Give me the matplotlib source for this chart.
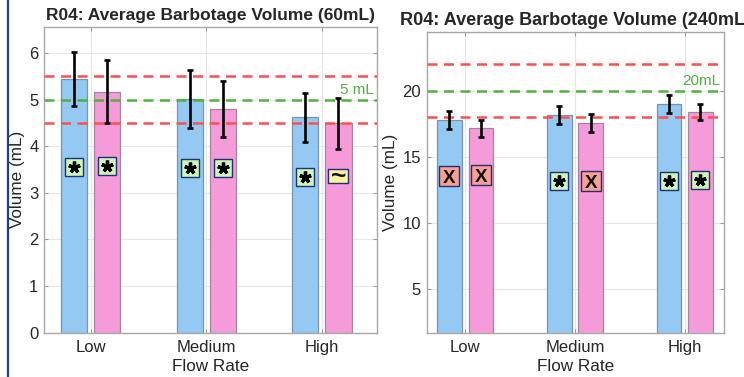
import matplotlib
matplotlib.use("Agg")
import matplotlib.pyplot as plt
import numpy as np

plt.rcParams['font.family'] = ['Liberation Sans', 'DejaVu Sans']

categories = ["Low", "Medium", "High"]

# 60 mL panel
mean60_a = [5.45, 5.02, 4.62]
err60_a = [0.58, 0.62, 0.53]
mean60_b = [5.17, 4.81, 4.49]
err60_b = [0.68, 0.60, 0.545]
sym60_a = ["*", "*", "*"]
sym60_b = ["*", "*", "~"]
symy60_a = [3.55, 3.53, 3.35]
symy60_b = [3.57, 3.53, 3.36]
ref60 = [4.5, 5.5]
target60 = 5.0
label60 = "5 mL"

# 240 mL panel
mean240_a = [17.79, 18.14, 18.97]
err240_a = [0.65, 0.69, 0.68]
mean240_b = [17.17, 17.59, 18.37]
err240_b = [0.65, 0.68, 0.59]
sym240_a = ["X", "*", "*"]
sym240_b = ["X", "X", "*"]
symy240_a = [13.52, 13.14, 13.2]
symy240_b = [13.6, 13.2, 13.27]
ref240 = [18.0, 22.0]
target240 = 20.0
label240 = "20mL"

BLUE = "#93C9F2"
PINK = "#F69BD9"
RED = "#FF4F4F"
GREEN = "#4DB33D"
SYM_COLORS = {"*": "#CFF7B4", "~": "#FFF3A0", "X": "#F5A093"}
BOX_EDGE = "#1F2F7A"
RECT_MARKER = [(-1.6, -1), (1.6, -1), (1.6, 1), (-1.6, 1), (-1.6, -1)]

fig = plt.figure(figsize=(7.44, 3.77), dpi=100)
fig.add_artist(plt.Line2D([7.5 / 744, 7.5 / 744], [0, 1], color="#1F3C8C", lw=1.6,
                          transform=fig.transFigure))


def draw_symbol(ax, xi, yy, s):
    if s == "*":
        ax.plot([xi], [yy], marker="s", ms=13, mfc=SYM_COLORS[s], mec=BOX_EDGE,
                mew=1, ls="none", zorder=5)
        ax.plot([xi], [yy], marker=(5, 2, 0), ms=8.5, mec="black", mew=2.4,
                ls="none", zorder=6)
    elif s == "X":
        ax.plot([xi], [yy], marker="s", ms=13.7, mfc=SYM_COLORS[s], mec=BOX_EDGE,
                mew=1, ls="none", zorder=5)
        ax.annotate("X", (xi, yy), xytext=(0, -4.9), textcoords="offset points",
                    ha="center", va="baseline", fontsize=13.5, fontweight="bold",
                    color="#111111", zorder=6)
    else:
        ax.plot([xi], [yy], marker=RECT_MARKER, ms=15, mfc=SYM_COLORS[s],
                mec=BOX_EDGE, mew=1, ls="none", zorder=5)
        ax.annotate(s, (xi, yy), xytext=(0, -5.6), textcoords="offset points",
                    ha="center", va="baseline", fontsize=19, fontweight="bold",
                    color="#111111", zorder=6)


def panel(rect, title, tsize, ma, ea, mb, eb, sa, sb, ya, yb, refs, target, tlabel,
          ylim, xlim, yticks):
    ax = fig.add_axes(rect)
    x = np.arange(1, len(categories) + 1)
    w = 0.225
    off = 0.143
    ax.bar(x - off, ma, w, color=BLUE, edgecolor="#7894AA", linewidth=0.9, zorder=2)
    ax.bar(x + off, mb, w, color=PINK, edgecolor="#A08898", linewidth=0.9, zorder=2)
    ax.errorbar(x - off, ma, yerr=ea, fmt="none", ecolor="black", elinewidth=1.9,
                capsize=2, capthick=1.9, zorder=4)
    ax.errorbar(x + off, mb, yerr=eb, fmt="none", ecolor="black", elinewidth=1.9,
                capsize=2, capthick=1.9, zorder=4)
    for r in refs:
        ax.axhline(r, color=RED, lw=1.8, ls=(0, (4, 2.6)), zorder=3)
    ax.axhline(target, color=GREEN, lw=1.8, ls=(0, (4, 2.6)), zorder=3)
    for xi, s, yy in zip(x - off, sa, ya):
        draw_symbol(ax, xi, yy, s)
    for xi, s, yy in zip(x + off, sb, yb):
        draw_symbol(ax, xi, yy, s)
    ax.text(xlim[1] - 0.03, target + (ylim[1] - ylim[0]) * 0.01, tlabel,
            color=GREEN, ha="right", va="bottom", fontsize=11, zorder=5)
    ax.set_xlim(*xlim)
    ax.set_ylim(*ylim)
    ax.set_xticks(x)
    ax.set_xticklabels(categories)
    ax.set_yticks(yticks)
    ax.grid(True, color="#E6E6E6", lw=0.8, zorder=0)
    ax.set_axisbelow(True)
    ax.tick_params(direction="in", length=3, color="#9A9A9A", labelsize=12,
                   labelcolor="#262626", top=True, right=True)
    ax.tick_params(axis="x", pad=5.5)
    ax.tick_params(axis="y", pad=4)
    for sp in ax.spines.values():
        sp.set_color("#A8A8A8")
        sp.set_linewidth(1)
    ax.set_xlabel("Flow Rate", fontsize=12.3, color="#262626", labelpad=2.5)
    ax.set_ylabel("Volume (mL)", fontsize=12.3, color="#262626", labelpad=3)
    ax.set_title(title, fontsize=tsize, fontweight="bold", color="#262626", pad=5)
    return ax


panel([44 / 744, 1 - 332.7 / 377, (377 - 44) / 744, (332.7 - 27) / 377],
      "R04: Average Barbotage Volume (60mL)", 12.5,
      mean60_a, err60_a, mean60_b, err60_b, sym60_a, sym60_b, symy60_a, symy60_b,
      ref60, target60, label60, (0, 6.56), (0.596, 3.476), [0, 1, 2, 3, 4, 5, 6])

panel([426.5 / 744, 1 - 332.7 / 377, (724 - 426.5) / 744, (332.7 - 32) / 377],
      "R04: Average Barbotage Volume (240mL)", 13,
      mean240_a, err240_a, mean240_b, err240_b, sym240_a, sym240_b, symy240_a, symy240_b,
      ref240, target240, label240, (1.72, 24.43), (0.648, 3.357), [5, 10, 15, 20])

fig.savefig("out.png", dpi=100)
